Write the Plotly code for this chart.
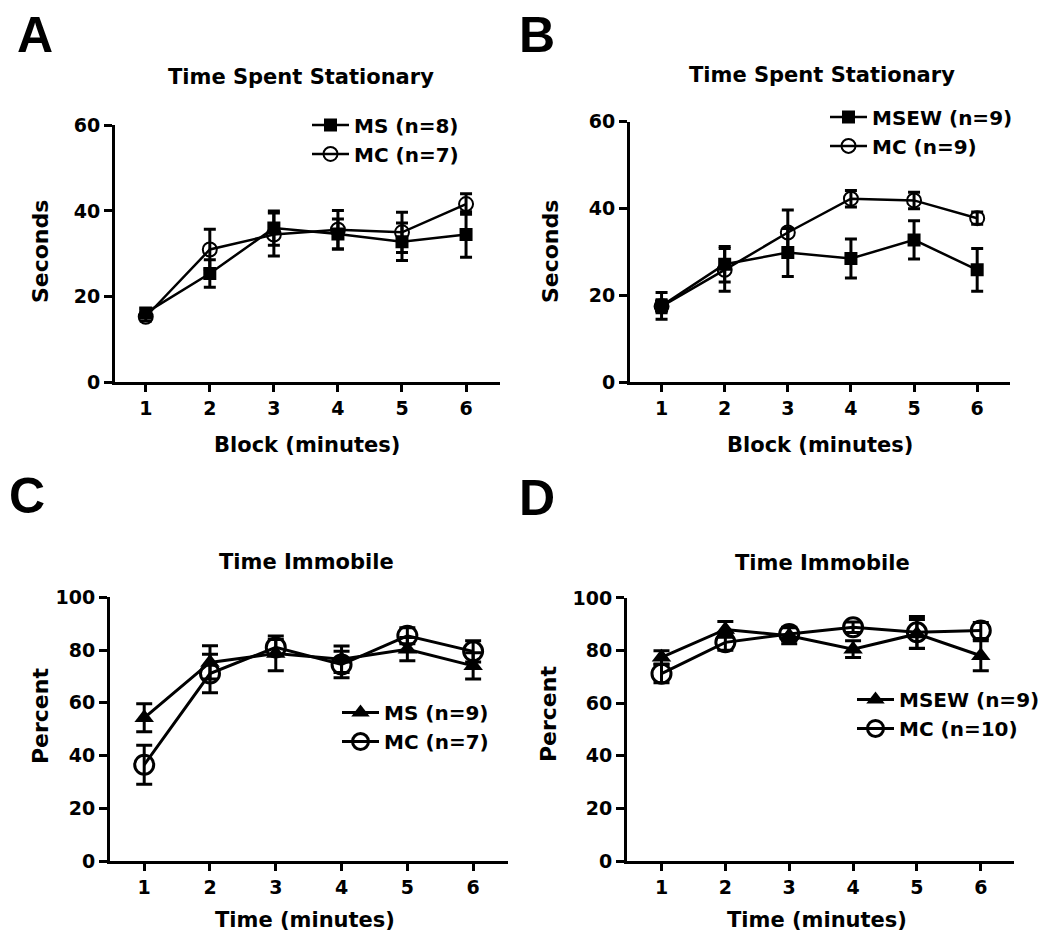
import plotly.graph_objects as go

W, H = 1055, 934
FONT = "DejaVu Sans, Liberation Sans, Arial, sans-serif"
LFONT = "Liberation Sans, Arial, sans-serif"

blocks = [1, 2, 3, 4, 5, 6]

# Panel A: Time Spent Stationary (seconds)
a_ms = [16.2, 25.4, 36.0, 34.6, 32.8, 34.5]
a_ms_err = [1.0, 3.2, 4.0, 3.5, 4.4, 5.3]
a_mc = [15.3, 31.0, 34.5, 35.6, 35.0, 41.6]
a_mc_err = [1.0, 4.7, 5.0, 4.5, 4.7, 2.4]

# Panel B: Time Spent Stationary (seconds)
b_msew = [17.6, 27.2, 29.9, 28.5, 32.8, 25.9]
b_msew_err = [3.1, 4.1, 5.5, 4.5, 4.4, 4.9]
b_mc = [17.5, 25.9, 34.5, 42.3, 41.9, 37.8]
b_mc_err = [1.5, 4.9, 5.2, 1.9, 1.9, 1.4]

# Panel C: Time Immobile (percent)
c_ms = [54.3, 75.3, 78.7, 76.5, 80.3, 74.0]
c_ms_err = [5.3, 6.3, 6.6, 5.0, 4.4, 5.0]
c_mc = [36.5, 71.1, 81.0, 74.5, 85.4, 79.5]
c_mc_err = [7.4, 7.3, 3.0, 5.0, 3.0, 4.0]

# Panel D: Time Immobile (percent)
d_msew = [77.4, 88.0, 85.6, 80.5, 86.3, 78.0]
d_msew_err = [2.5, 3.0, 3.0, 3.2, 5.5, 5.7]
d_mc = [71.2, 83.1, 86.3, 88.8, 86.9, 87.6]
d_mc_err = [3.5, 3.0, 2.5, 2.0, 6.0, 3.0]

names = {
    "A": ("MS (n=8)", "MC (n=7)"),
    "B": ("MSEW (n=9)", "MC (n=9)"),
    "C": ("MS (n=9)", "MC (n=7)"),
    "D": ("MSEW (n=9)", "MC (n=10)"),
}

# effective vertical extent of the plotting area as observed in the render
PT, PB = 13.0, 921.0


def px(x):
    return x / W


def py(y):
    return (PB - y) / (PB - PT)


fig = go.Figure()


def add_series(y, err, name, ax, leg, symbol, size, mlw, lw, capw):
    fig.add_trace(go.Scatter(
        x=blocks, y=y, name=name, mode="lines+markers",
        xaxis="x" + ax, yaxis="y" + ax, legend=leg,
        line=dict(color="black", width=lw),
        marker=dict(symbol=symbol, size=size, color="black",
                    line=dict(color="black", width=mlw)),
        error_y=dict(type="data", array=err, visible=True, color="black",
                     thickness=3, width=capw),
    ))


# A
add_series(a_ms, a_ms_err, names["A"][0], "", "legend", "square", 13, 0, 2.5, 6)
add_series(a_mc, a_mc_err, names["A"][1], "", "legend", "circle-open", 14, 2, 2.5, 6)
# B
add_series(b_msew, b_msew_err, names["B"][0], "2", "legend2", "square", 13, 0, 2.5, 6)
add_series(b_mc, b_mc_err, names["B"][1], "2", "legend2", "circle-open", 14, 2, 2.5, 6)
# C
add_series(c_ms, c_ms_err, names["C"][0], "3", "legend3", "triangle-up", 17, 0, 3, 8)
add_series(c_mc, c_mc_err, names["C"][1], "3", "legend3", "circle-open", 19, 3, 3, 8)
# D
add_series(d_msew, d_msew_err, names["D"][0], "4", "legend4", "triangle-up", 17, 0, 3, 8)
add_series(d_mc, d_mc_err, names["D"][1], "4", "legend4", "circle-open", 19, 3, 3, 8)

tickfont = dict(family=FONT, size=19, color="black", weight="bold")


def xaxis(x0, x1, xr, anchor):
    return dict(domain=[px(x0), px(x1)], range=xr, anchor=anchor,
                tickvals=blocks, showline=True, linewidth=3, linecolor="black",
                ticks="outside", ticklen=7, tickwidth=3, tickcolor="black",
                showgrid=False, zeroline=False, tickfont=tickfont, fixedrange=True)


def yaxis(y0, y1, ymax, anchor):
    return dict(domain=[py(y1), py(y0)], range=[0, ymax], anchor=anchor,
                dtick=20, showline=True, linewidth=3, linecolor="black",
                ticks="outside", ticklen=8, tickwidth=3, tickcolor="black",
                showgrid=False, zeroline=False, tickfont=tickfont, fixedrange=True)


def legend(x, y):
    return dict(x=px(x), y=py(y), xanchor="left", yanchor="top",
                bgcolor="rgba(0,0,0,0)",
                font=dict(family=FONT, size=20, color="black", weight="bold"),
                itemwidth=37, tracegroupgap=0, itemclick=False)


layout = dict(
    width=W, height=H, margin=dict(l=0, r=0, t=0, b=0),
    paper_bgcolor="white", plot_bgcolor="white",
    font=dict(family=FONT, color="black", weight="bold"),
    showlegend=True,
    xaxis=xaxis(115, 500, [0.52, 6.53], "y"),
    yaxis=yaxis(126.7, 382.7, 60, "x"),
    xaxis2=xaxis(630, 1010, [0.5, 6.52], "y2"),
    yaxis2=yaxis(123.3, 382.7, 60, "x2"),
    xaxis3=xaxis(110, 508, [0.48, 6.53], "y3"),
    yaxis3=yaxis(596.7, 859.3, 100, "x3"),
    xaxis4=xaxis(627, 1014, [0.46, 6.52], "y4"),
    yaxis4=yaxis(597.3, 859.3, 100, "x4"),
    legend=legend(307, 107),
    legend2=legend(825, 99),
    legend3=legend(337, 692),
    legend4=legend(852, 679),
)
fig.update_layout(**layout)

ann = []


def text(x, y, s, size, angle=0, family=FONT):
    ann.append(dict(x=px(x), y=py(y), xref="paper", yref="paper", text=s,
                    showarrow=False, xanchor="center", yanchor="middle",
                    textangle=angle,
                    font=dict(family=family, size=size, color="black", weight="bold")))


# panel letters
text(35, 37, "A", 50, family=LFONT)
text(537, 37, "B", 50, family=LFONT)
text(27, 496, "C", 50, family=LFONT)
text(537, 498, "D", 50, family=LFONT)
# titles
text(301, 79, "Time Spent Stationary", 21)
text(822, 77, "Time Spent Stationary", 21)
text(306, 562, "Time Immobile", 21)
text(822, 563, "Time Immobile", 21)
# axis titles
text(307, 445, "Block (minutes)", 21)
text(820, 445, "Block (minutes)", 21)
text(305, 918, "Time (minutes)", 21)
text(817, 918, "Time (minutes)", 21)
text(40, 253, "Seconds", 22, -90)
text(550, 253, "Seconds", 22, -90)
text(40, 715, "Percent", 22, -90)
text(548, 713, "Percent", 22, -90)

fig.update_layout(annotations=ann)
fig.write_html(
    "out.html",
    config={"displayModeBar": False},
    post_script="document.body.style.margin='0';document.body.style.overflow='hidden';",
)
